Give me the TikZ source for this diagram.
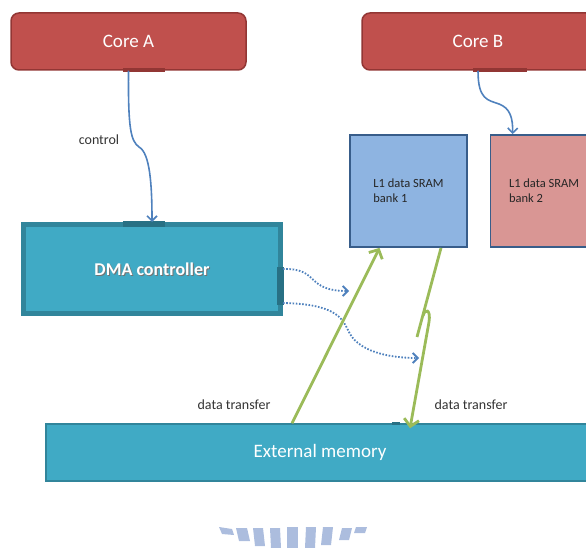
\documentclass[tikz,border=0pt]{standalone}
\usepackage{fontspec}
\setmainfont{Carlito}
\usetikzlibrary{arrows.meta, positioning}
\definecolor{corered}{RGB}{192,80,77}
\definecolor{coreedge}{RGB}{146,54,52}
\definecolor{dmafill}{RGB}{64,170,197}
\definecolor{dmaedge}{RGB}{49,133,155}
\definecolor{tabdark}{RGB}{40,112,132}
\definecolor{bankone}{RGB}{142,180,225}
\definecolor{banktwo}{RGB}{217,150,148}
\definecolor{bankedge}{RGB}{56,93,138}
\definecolor{linkblue}{RGB}{79,129,189}
\definecolor{datagreen}{RGB}{155,187,89}
\definecolor{wmark}{RGB}{172,189,222}

\begin{document}
\begin{tikzpicture}[x=1pt, y=-1pt,
  core/.style={draw=coreedge, fill=corered, line width=1.5pt, rounded corners=8pt,
    minimum height=57pt, inner sep=0pt, text=white, font=\fontsize{19}{22}\selectfont},
  bank/.style={draw=bankedge, line width=1.8pt, minimum width=117pt, minimum height=112pt,
    inner sep=0pt, align=flush left, text=black!85, font=\fontsize{12.5}{15}\selectfont},
  dmatext/.style={font=\bfseries\fontsize{18}{20}\selectfont, text=white},
  lbl/.style={text=black!80, font=\fontsize{14}{16}\selectfont},
  ctrllink/.style={draw=linkblue, line width=1.6pt, -{Straight Barb[length=5pt, width=10pt]}},
  dotlink/.style={draw=linkblue, line width=1.8pt, dash pattern=on 1.6pt off 1.6pt,
    -{Straight Barb[length=5pt, width=10pt]}},
  datalink/.style={draw=datagreen, line width=2.8pt, -{Straight Barb[length=7pt, width=15pt]}}]
\useasboundingbox (0,0) rectangle (586,548);

% Cores
\node[core, minimum width=235pt] (coreA) at (128.5,41.5) {Core A};
\node[core, minimum width=232pt] (coreB) at (478,41.5) {Core B};
\fill[coreedge] (123,68) rectangle (165,72);
\fill[coreedge] (473,68) rectangle (527,72);

% DMA controller
\node[draw=dmaedge, fill=dmafill, line width=5pt, minimum width=257pt, minimum height=89pt] (dma) at (152,269) {};
\node[dmatext, text=black!55] (dmashade) at (153,270.6) {DMA controller};
\node[dmatext] (dmalabel) at (dma.center) {DMA controller};
\fill[tabdark] (123,221) rectangle (165,226.5);
\fill[tabdark] (277,267) rectangle (284,305);

% L1 banks
\node[bank, fill=bankone] (bank1) at (408.5,191) {L1 data SRAM\\bank 1};
\node[bank, fill=banktwo, text width=80pt] (bank2) at (549,191) {L1 data SRAM\\bank 2};

% External memory
\node[draw=dmaedge, fill=dmafill, line width=1.5pt, minimum width=548pt, minimum height=57pt,
  text=white, font=\fontsize{19}{22}\selectfont] (extmem) at (320,452.5) {External memory};
\fill[tabdark] (392,422) rectangle (400,425);

% Control paths
\draw[ctrllink] (coreA.south) .. controls (128,130) and (131,141) .. (139,147)
  .. controls (150,153) and (152,185) .. (dma.north);
\draw[ctrllink] (coreB.south) .. controls (478,100) and (488,100) .. (499,104)
  .. controls (510,108) and (513,118) .. ([xshift=23pt]bank2.north west);
\node[lbl] (ctrl) at (99,140) {control};

% Dotted requests from the DMA
\coordinate (dotendA) at (349,291);
\coordinate (dotendB) at (419,358);
\draw[dotlink] (dma.east) .. controls (320,268) and (305,291) .. (dotendA);
\draw[dotlink] ([yshift=-34pt]dma.east) .. controls (335,304) and (342,318) .. (348,330)
  .. controls (357,352) and (390,358) .. (dotendB);

% Data transfers
\draw[datalink] ([xshift=-28pt]extmem.north) -- ([xshift=-29pt]bank1.south);
\draw[datalink] ([xshift=32.5pt]bank1.south) -- (417,337)
  (423,316) .. controls (425,308) and (431,309) .. (429,322)
  -- ([xshift=90pt, yshift=-5pt]extmem.north);
\node[lbl] (dtleft) at (234,405) {data transfer};
\node[lbl] (dtright) at (471,405) {data transfer};

% Watermark
\fill[wmark] (219,527) -- (232,529) -- (234,535) -- (222,534) -- cycle;
\fill[wmark] (236,528) -- (247,528) -- (250,541) -- (239,541) -- cycle;
\fill[wmark] (253,528) -- (263,528) -- (265,546) -- (255,546) -- cycle;
\fill[wmark] (270,528) -- (280,528) -- (281,548) -- (271,548) -- cycle;
\fill[wmark] (287,527) -- (298,527) -- (298,548) -- (287,548) -- cycle;
\fill[wmark] (306,527) -- (316,527) -- (315,548) -- (305,548) -- cycle;
\fill[wmark] (323,527) -- (333,527) -- (331,545) -- (321,545) -- cycle;
\fill[wmark] (342,528) -- (352,528) -- (349,540) -- (339,540) -- cycle;
\fill[wmark] (356,527) -- (367,527) -- (365,533) -- (354,533) -- cycle;
\end{tikzpicture}
\end{document}
